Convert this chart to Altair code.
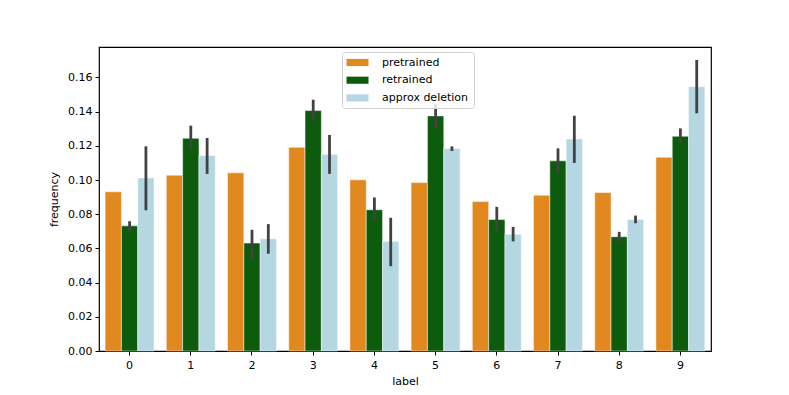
import altair as alt
import pandas as pd

labels = [str(i) for i in range(10)]
models = ["pretrained", "retrained", "approx deletion"]
colors = ["#E1891F", "#0D5B0D", "#B4D7E1"]

pretrained = [0.0931, 0.1028, 0.1042, 0.1191, 0.1001, 0.0985, 0.0874, 0.0911, 0.0927, 0.1133]
retrained = [0.0732, 0.1244, 0.0631, 0.1406, 0.0826, 0.1375, 0.0769, 0.1112, 0.0668, 0.1256]
retrained_lo = [0.0695, 0.1178, 0.0535, 0.1343, 0.0763, 0.1300, 0.0697, 0.1038, 0.0637, 0.1215]
retrained_hi = [0.0759, 0.1318, 0.0709, 0.1470, 0.0898, 0.1445, 0.0843, 0.1185, 0.0697, 0.1302]
approx = [0.1012, 0.1143, 0.0656, 0.1150, 0.0641, 0.1184, 0.0683, 0.1240, 0.0769, 0.1546]
approx_lo = [0.0823, 0.1036, 0.0569, 0.1036, 0.0496, 0.1170, 0.0641, 0.1100, 0.0747, 0.1390]
approx_hi = [0.1197, 0.1246, 0.0742, 0.1264, 0.0779, 0.1197, 0.0726, 0.1376, 0.0792, 0.1702]
y_ticks = [0.0, 0.02, 0.04, 0.06, 0.08, 0.10, 0.12, 0.14, 0.16]

rows = []
for i, lab in enumerate(labels):
    rows.append({"label": lab, "model": "pretrained", "freq": pretrained[i], "lo": None, "hi": None})
    rows.append({"label": lab, "model": "retrained", "freq": retrained[i], "lo": retrained_lo[i], "hi": retrained_hi[i]})
    rows.append({"label": lab, "model": "approx deletion", "freq": approx[i], "lo": approx_lo[i], "hi": approx_hi[i]})
df = pd.DataFrame(rows)
err = df.dropna(subset=["lo"])

FONT = "DejaVu Sans"
FS = 11

x_axis = alt.Axis(labelAngle=0, tickSize=4, labelPadding=4, titlePadding=5, domain=False)
y_axis = alt.Axis(values=y_ticks, format=".2f", grid=False, tickSize=4,
                  labelOverlap=False, labelFlush=False,
                  labelPadding=3, titlePadding=8, domain=False)
x_scale = alt.Scale(paddingInner=0.2, paddingOuter=0.1)
xoff = alt.XOffset("model:N", sort=models, scale=alt.Scale(domain=models, paddingInner=0, paddingOuter=0))
y_scale = alt.Scale(domain=[0, 0.1778], nice=False, zero=True)

bars = alt.Chart(df).mark_bar(stroke="white", strokeWidth=0.8, strokeOpacity=0.6).encode(
    x=alt.X("label:N", sort=labels, title="label", scale=x_scale, axis=x_axis),
    xOffset=xoff,
    y=alt.Y("freq:Q", title="frequency", scale=y_scale, axis=y_axis),
    color=alt.Color("model:N", sort=models,
                    scale=alt.Scale(domain=models, range=colors),
                    legend=alt.Legend(title=None, orient="none", legendX=243, legendY=5,
                                      symbolType="M-2,-0.65H2V0.65H-2Z", symbolSize=121,
                                      symbolOffset=5, labelOffset=19, symbolStrokeWidth=0,
                                      labelFontSize=FS, labelFont=FONT, labelColor="black",
                                      rowPadding=5.7, padding=5,
                                      fillColor="rgba(255,255,255,0.85)",
                                      strokeColor="#d0d0d0", cornerRadius=3)),
)

errs = alt.Chart(err).mark_rule(color="#424242", strokeWidth=2.8).encode(
    x=alt.X("label:N", sort=labels, title="label", scale=x_scale, axis=x_axis),
    xOffset=xoff,
    y=alt.Y("lo:Q", title="frequency", scale=y_scale, axis=y_axis),
    y2="hi:Q",
)

chart = alt.layer(bars, errs).properties(
    width=612, height=304,
    autosize="none",
    padding={"left": 91, "top": 39, "right": 70, "bottom": 44},
).configure_view(stroke="black", strokeWidth=1.2).configure_axis(
    labelFont=FONT, titleFont=FONT, labelFontSize=FS, titleFontSize=FS,
    labelColor="black", titleColor="black", tickColor="black", titleFontWeight="normal",
)

chart.save("out.html", embed_options={"renderer": "svg", "actions": False})
